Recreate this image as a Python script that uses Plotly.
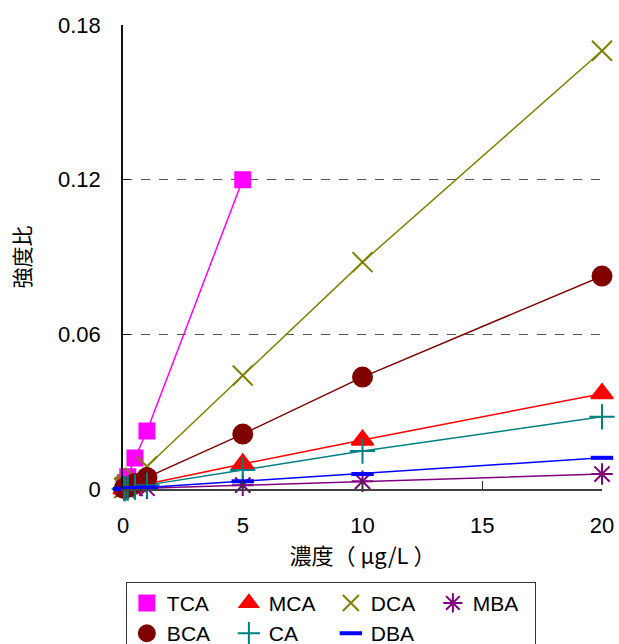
import plotly.graph_objects as go

# concentrations (µg/L)
conc_tca = [0.05, 0.1, 0.2, 0.5, 1, 5]
conc = [0.05, 0.1, 0.2, 0.5, 1, 5, 10, 20]

# intensity ratios
tca = [0.0012, 0.0024, 0.0048, 0.0120, 0.0225, 0.1200]
mca = [0.0001, 0.0002, 0.0004, 0.0010, 0.0019, 0.0097, 0.0190, 0.0370]
dca = [0.0004, 0.0009, 0.0017, 0.0044, 0.0087, 0.0440, 0.0880, 0.1700]
mba = [0.0000, 0.0000, 0.0001, 0.0002, 0.0003, 0.0015, 0.0030, 0.0058]
bca = [0.0002, 0.0004, 0.0009, 0.0021, 0.0045, 0.0213, 0.0434, 0.0826]
ca = [0.0001, 0.0001, 0.0003, 0.0007, 0.0015, 0.0074, 0.0147, 0.0280]
dba = [0.0000, 0.0001, 0.0001, 0.0003, 0.0006, 0.0030, 0.0058, 0.0121]

x_ticks = [0, 5, 10, 15, 20]
y_ticks = [0, 0.06, 0.12, 0.18]
y_tick_text = ["0", "0.06", "0.12", "0.18"]

series = [
    ("TCA", conc_tca, tca, "#FF00FF", "square", 15),
    ("MCA", conc, mca, "#FF0000", "triangle-up", 19),
    ("DCA", conc, dca, "#808000", "x-thin-open", 20),
    ("MBA", conc, mba, "#800080", "asterisk-open", 18),
    ("BCA", conc, bca, "#800000", "circle", 19),
    ("CA", conc, ca, "#008080", "cross-thin-open", 18),
    ("DBA", conc, dba, "#0000FF", "line-ew-open", 16),
]

fig = go.Figure()
# connecting lines (not shown in legend)
for name, xs, ys, color, sym, size in series:
    fig.add_trace(go.Scatter(
        x=xs, y=ys, name=name, mode="lines", legendgroup=name,
        line=dict(color=color, width=1.5), showlegend=False,
        cliponaxis=False, hoverinfo="skip",
    ))
# markers (shown in legend)
for name, xs, ys, color, sym, size in series:
    mline = dict(color=color, width=2)
    if sym == "line-ew-open":
        mline = dict(color=color, width=4)
    fig.add_trace(go.Scatter(
        x=xs, y=ys, name=name, mode="markers", legendgroup=name,
        marker=dict(symbol=sym, size=size, color=color, line=mline),
        cliponaxis=False,
    ))

base_font = "Liberation Sans, Noto Sans CJK JP, sans-serif"
fig.update_layout(
    width=619, height=644,
    margin=dict(l=123, r=17, t=25, b=155, autoexpand=False),
    paper_bgcolor="white", plot_bgcolor="white",
    font=dict(family=base_font, size=22, color="#000000"),
    showlegend=True,
    legend=dict(
        orientation="h", x=0.006, xanchor="left", y=-0.2, yanchor="top",
        bordercolor="#333333", borderwidth=1,
        font=dict(family=base_font, size=21, color="#000000"),
        entrywidth=57, entrywidthmode="pixels",
        traceorder="normal",
    ),
    xaxis=dict(
        range=[0, 20], tickvals=x_ticks, ticktext=[str(v) for v in x_ticks],
        showgrid=False, zeroline=False, automargin=False,
        showline=True, linecolor="#404040", linewidth=1.5,
        ticks="inside", ticklen=8, tickcolor="#333333",
        ticklabelstandoff=16,
        title=dict(text="濃度（ μg/L ）", font=dict(family="Noto Sans CJK JP, sans-serif", size=22), standoff=0),
    ),
    yaxis=dict(
        range=[0, 0.18], tickvals=y_ticks, ticktext=y_tick_text,
        showgrid=True, gridcolor="#555555", griddash="dash", gridwidth=1,
        zeroline=False, automargin=False,
        showline=True, linecolor="#111111", linewidth=1.5,
        ticks="inside", ticklen=7, tickcolor="#111111",
        ticklabelstandoff=16,
        title=dict(text="強度比", font=dict(family="Noto Sans CJK JP, sans-serif", size=21), standoff=22),
    ),
)

fig.write_html(
    "out.html",
    config={"displayModeBar": False},
    post_script="document.body.style.margin='0';document.body.style.overflow='hidden';",
)
